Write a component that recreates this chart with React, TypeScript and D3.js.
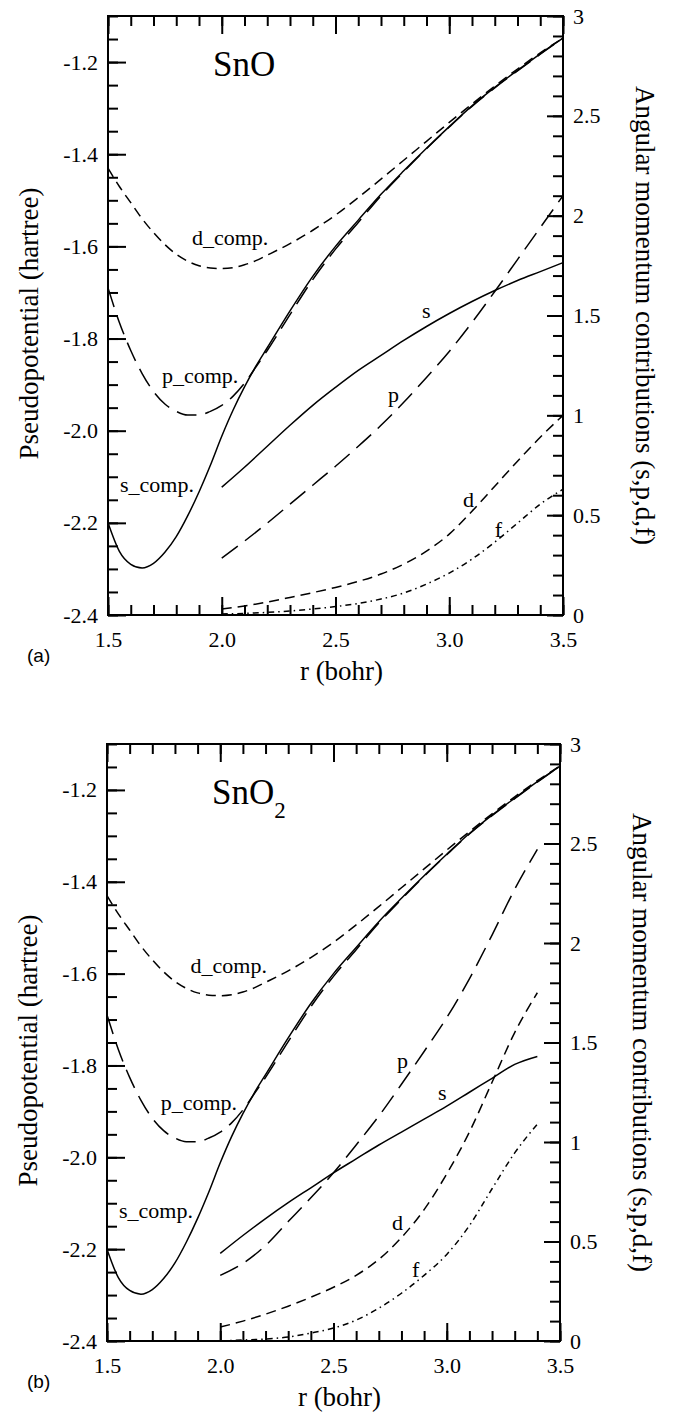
import React, { useEffect, useRef } from 'react';
import * as d3 from 'd3';

// pseudopotential components (hartree) - identical in both panels
const rComp = [1.5, 1.55, 1.6, 1.65, 1.7, 1.75, 1.8, 1.85, 1.9, 1.95, 2.0, 2.05, 2.1, 2.15, 2.2,
  2.3, 2.4, 2.5, 2.6, 2.7, 2.8, 2.9, 3.0, 3.1, 3.2, 3.3, 3.4, 3.5];
const sComp = [-2.2, -2.262, -2.29, -2.298, -2.288, -2.264, -2.23, -2.185, -2.133, -2.075, -2.012, -1.955, -1.905, -1.86, -1.82,
  -1.74, -1.665, -1.6, -1.543, -1.487, -1.436, -1.387, -1.34, -1.295, -1.255, -1.218, -1.182, -1.148];
const pComp = [-1.69, -1.765, -1.826, -1.876, -1.915, -1.942, -1.958, -1.966, -1.966, -1.958, -1.945, -1.925, -1.897, -1.862, -1.826,
  -1.748, -1.672, -1.606, -1.548, -1.49, -1.438, -1.388, -1.341, -1.296, -1.256, -1.219, -1.183, -1.148];
const dComp = [-1.43, -1.47, -1.505, -1.54, -1.57, -1.596, -1.617, -1.632, -1.642, -1.647, -1.648, -1.646, -1.64, -1.631, -1.619,
  -1.594, -1.565, -1.532, -1.494, -1.454, -1.413, -1.372, -1.331, -1.291, -1.252, -1.215, -1.18, -1.148];

// angular momentum contributions, SnO
const rSnO = [2.0, 2.1, 2.2, 2.3, 2.4, 2.5, 2.6, 2.7, 2.8, 2.9, 3.0, 3.1, 3.2, 3.3, 3.4, 3.5];
const sSnO = [0.64, 0.74, 0.845, 0.95, 1.05, 1.14, 1.225, 1.3, 1.375, 1.445, 1.51, 1.57, 1.625, 1.675, 1.72, 1.765];
const pSnO = [0.285, 0.37, 0.46, 0.555, 0.65, 0.745, 0.845, 0.95, 1.065, 1.19, 1.32, 1.465, 1.62, 1.78, 1.94, 2.1];
const dSnO = [0.03, 0.045, 0.065, 0.088, 0.112, 0.138, 0.168, 0.205, 0.255, 0.32, 0.405, 0.52, 0.645, 0.77, 0.89, 1.0];
const fSnO = [0.005, 0.008, 0.013, 0.02, 0.03, 0.042, 0.058, 0.08, 0.11, 0.155, 0.21, 0.28, 0.365, 0.46, 0.555, 0.63];

// angular momentum contributions, SnO2
const rSnO2 = [2.0, 2.1, 2.2, 2.3, 2.4, 2.5, 2.6, 2.7, 2.8, 2.9, 3.0, 3.1, 3.2, 3.3, 3.4];
const sSnO2 = [0.44, 0.53, 0.615, 0.695, 0.77, 0.845, 0.915, 0.985, 1.05, 1.115, 1.18, 1.25, 1.32, 1.39, 1.43];
const pSnO2 = [0.33, 0.39, 0.48, 0.6, 0.72, 0.845, 0.985, 1.13, 1.29, 1.455, 1.625, 1.82, 2.04, 2.27, 2.47];
const dSnO2 = [0.07, 0.1, 0.135, 0.175, 0.22, 0.27, 0.33, 0.41, 0.52, 0.66, 0.84, 1.05, 1.3, 1.55, 1.75];
const fSnO2 = [0.0, 0.005, 0.01, 0.02, 0.04, 0.065, 0.105, 0.165, 0.24, 0.33, 0.435, 0.58, 0.765, 0.945, 1.09];

// ticks
const xMajor = [1.5, 2.0, 2.5, 3.0, 3.5];
const yLeftMajor = [-2.4, -2.2, -2.0, -1.8, -1.6, -1.4, -1.2];
const yRightMajor = [0, 0.5, 1, 1.5, 2, 2.5, 3];

// curve label anchors [text, r, value, axis]
const compLabels = [['d_comp.', 1.869, -1.598, 'L'], ['p_comp.', 1.737, -1.897, 'L'], ['s_comp.', 1.553, -2.133, 'L']];
const snoLabels = [['s', 2.88, 1.487, 'R'], ['p', 2.731, 1.067, 'R'], ['d', 3.06, 0.541, 'R'], ['f', 3.2, 0.391, 'R']];
const sno2Labels = [['s', 2.961, 1.211, 'R'], ['p', 2.78, 1.372, 'R'], ['d', 2.758, 0.558, 'R'], ['f', 2.847, 0.322, 'R']];

const SERIF = 'Liberation Serif, Times New Roman, Times, DejaVu Serif, serif';
const SANS = 'Liberation Sans, Arial, Helvetica, sans-serif';

const SOLID = null;
const SHORT = '10,6';
const LONG = '20,9';
const DASHDOT = '6,4,1.5,4';

const panels = [
  {
    left: 108, top: 16, width: 455, height: 599, title: 'SnO', sub: '', tag: '(a)',
    curves: [
      { r: rComp, v: dComp, axis: 'L', dash: SHORT },
      { r: rComp, v: pComp, axis: 'L', dash: LONG },
      { r: rComp, v: sComp, axis: 'L', dash: SOLID },
      { r: rSnO, v: sSnO, axis: 'R', dash: SOLID },
      { r: rSnO, v: pSnO, axis: 'R', dash: LONG },
      { r: rSnO, v: dSnO, axis: 'R', dash: SHORT },
      { r: rSnO, v: fSnO, axis: 'R', dash: DASHDOT },
    ],
    labels: [...compLabels, ...snoLabels],
  },
  {
    left: 107, top: 744, width: 453, height: 597, title: 'SnO', sub: '2', tag: '(b)',
    curves: [
      { r: rComp, v: dComp, axis: 'L', dash: SHORT },
      { r: rComp, v: pComp, axis: 'L', dash: LONG },
      { r: rComp, v: sComp, axis: 'L', dash: SOLID },
      { r: rSnO2, v: sSnO2, axis: 'R', dash: SOLID },
      { r: rSnO2, v: pSnO2, axis: 'R', dash: LONG },
      { r: rSnO2, v: dSnO2, axis: 'R', dash: SHORT },
      { r: rSnO2, v: fSnO2, axis: 'R', dash: DASHDOT },
    ],
    labels: [...compLabels, ...sno2Labels],
  },
];

const styleAxis = (sel) => {
  sel.select('.domain').remove();
  sel.attr('font-family', null).attr('font-size', null);
  sel.selectAll('line').attr('stroke', '#000').attr('stroke-width', 2);
  sel.selectAll('text').attr('font-size', 22).attr('fill', '#000').style('font-family', SERIF);
};

function drawPanel(root, p) {
  const w = p.width;
  const h = p.height;
  const g = root.append('g').attr('transform', `translate(${p.left},${p.top})`);

  const x = d3.scaleLinear().domain([1.5, 3.5]).range([0, w]);
  const yL = d3.scaleLinear().domain([-2.4, -1.1]).range([h, 0]);
  const yR = d3.scaleLinear().domain([0, 3]).range([h, 0]);

  const xMinor = d3.range(15, 36).map(d => d / 10);
  const yLeftMinor = d3.range(-48, -21).map(d => d / 20);
  const yRightMinor = d3.range(0, 31).map(d => d / 10);
  const blank = () => '';

  // minor ticks
  g.append('g').attr('transform', `translate(0,${h})`)
    .call(d3.axisBottom(x).tickValues(xMinor).tickSize(-10).tickSizeOuter(0).tickFormat(blank)).call(styleAxis);
  g.append('g')
    .call(d3.axisTop(x).tickValues(xMinor).tickSize(-10).tickSizeOuter(0).tickFormat(blank)).call(styleAxis);
  g.append('g')
    .call(d3.axisLeft(yL).tickValues(yLeftMinor).tickSize(-10).tickSizeOuter(0).tickFormat(blank)).call(styleAxis);
  g.append('g').attr('transform', `translate(${w},0)`)
    .call(d3.axisRight(yR).tickValues(yRightMinor).tickSize(-10).tickSizeOuter(0).tickFormat(blank)).call(styleAxis);

  // major ticks + labels
  g.append('g').attr('transform', `translate(0,${h})`)
    .call(d3.axisBottom(x).tickValues(xMajor).tickSize(-18).tickSizeOuter(0).tickPadding(16)
      .tickFormat(d => d.toFixed(1))).call(styleAxis);
  g.append('g')
    .call(d3.axisTop(x).tickValues(xMajor).tickSize(-18).tickSizeOuter(0).tickFormat(blank)).call(styleAxis);
  g.append('g')
    .call(d3.axisLeft(yL).tickValues(yLeftMajor).tickSize(-18).tickSizeOuter(0).tickPadding(10)
      .tickFormat(d => d.toFixed(1))).call(styleAxis);
  g.append('g').attr('transform', `translate(${w},0)`)
    .call(d3.axisRight(yR).tickValues(yRightMajor).tickSize(-16).tickSizeOuter(0).tickPadding(10)
      .tickFormat(d => String(d))).call(styleAxis);

  // frame
  g.append('rect').attr('width', w).attr('height', h)
    .attr('fill', 'none').attr('stroke', '#000').attr('stroke-width', 2);

  // curves
  p.curves.forEach(c => {
    const y = c.axis === 'L' ? yL : yR;
    const line = d3.line()
      .x(d => x(d[0]))
      .y(d => y(d[1]))
      .curve(d3.curveMonotoneX);
    g.append('path')
      .attr('d', line(c.r.map((r, i) => [r, c.v[i]])))
      .attr('fill', 'none')
      .attr('stroke', '#000')
      .attr('stroke-width', 1.5)
      .attr('stroke-dasharray', c.dash);
  });

  // curve labels
  p.labels.forEach(([t, r, v, axis]) => {
    g.append('text')
      .attr('x', x(r))
      .attr('y', axis === 'L' ? yL(v) : yR(v))
      .style('font-family', SERIF)
      .attr('font-size', 22)
      .text(t);
  });

  // compound title
  const title = g.append('text')
    .attr('x', 105).attr('y', 60)
    .style('font-family', SERIF).attr('font-size', 35)
    .text(p.title);
  if (p.sub) {
    title.append('tspan').attr('font-size', 23).attr('dy', 14).text(p.sub);
  }

  // axis titles
  g.append('text')
    .attr('transform', `translate(-70,${h / 2 + 8}) rotate(-90)`)
    .attr('text-anchor', 'middle')
    .style('font-family', SERIF).attr('font-size', 27)
    .text('Pseudopotential (hartree)');
  g.append('text')
    .attr('transform', `translate(${w + 73},${h / 2}) rotate(90)`)
    .attr('text-anchor', 'middle')
    .style('font-family', SERIF).attr('font-size', 27)
    .text('Angular momentum contributions (s,p,d,f)');
  g.append('text')
    .attr('x', w / 2 + 6).attr('y', h + 65)
    .attr('text-anchor', 'middle')
    .style('font-family', SERIF).attr('font-size', 27)
    .text('r (bohr)');

  // panel tag
  g.append('text')
    .attr('x', 27 - p.left).attr('y', h + 47)
    .style('font-family', SANS).attr('font-size', 19)
    .text(p.tag);
}

const App = () => {
  const ref = useRef(null);

  useEffect(() => {
    const svg = d3.select(ref.current);
    svg.selectAll('*').remove();
    panels.forEach(p => drawPanel(svg, p));
  }, []);

  return (
    <svg
      ref={ref}
      width={674}
      height={1414}
      style={{ position: 'absolute', left: 0, top: 0, background: '#fff' }}
    />
  );
};

export default App;
